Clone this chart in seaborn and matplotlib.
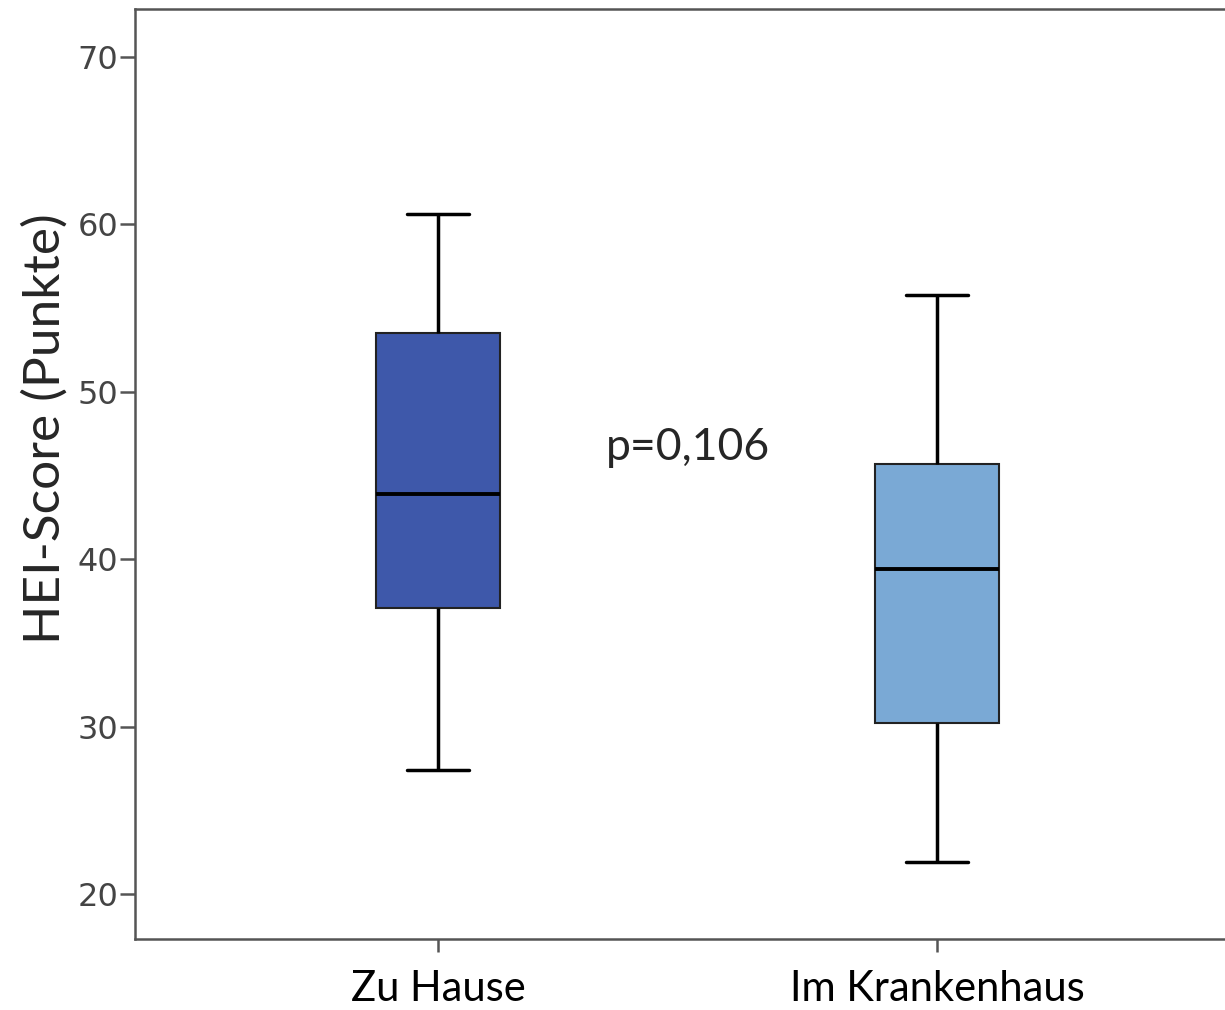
import matplotlib
matplotlib.use("Agg")
import matplotlib.pyplot as plt
import seaborn as sns
import pandas as pd

# Data (five-number summaries)
categories = ["Zu Hause", "Im Krankenhaus"]
zu_hause = [27.4, 37.1, 43.9, 53.5, 60.6]
krankenhaus = [21.9, 30.2, 39.4, 45.7, 55.8]
colors = ["#3E58AA", "#7AA9D5"]
yticks = [20, 30, 40, 50, 60, 70]
p_text = "p=0,106"

df = pd.DataFrame({
    "Gruppe": [categories[0]] * len(zu_hause) + [categories[1]] * len(krankenhaus),
    "HEI": zu_hause + krankenhaus,
})

sns.set_style("white")
plt.rcParams["font.family"] = ["Liberation Sans Narrow", "DejaVu Sans"]

fig = plt.figure(figsize=(12.25, 10.10), dpi=100)
ax = fig.add_axes([135 / 1225, 1 - 939 / 1010, (1240 - 135) / 1225, (939 - 9) / 1010])

sns.boxplot(
    data=df, x="Gruppe", y="HEI", hue="Gruppe", order=categories, hue_order=categories,
    palette=colors, saturation=1, width=0.25, linecolor="black", linewidth=1.5, whis=1.5,
    legend=False, ax=ax,
    whiskerprops=dict(linewidth=2.5, color="black"),
    capprops=dict(linewidth=2.5, color="black"),
    medianprops=dict(linewidth=2.8, color="black"),
    boxprops=dict(linewidth=1.5, edgecolor="#222222"),
)

ax.set_xlim(-0.607, 1.607)
ax.set_ylim(17.31, 72.87)
ax.set_yticks(yticks)
ax.set_yticklabels([str(t) for t in yticks])

for s in ax.spines.values():
    s.set_visible(True)
    s.set_color("#555555")
    s.set_linewidth(1.8)

ax.tick_params(axis="y", which="both", left=True, length=11, width=1.8, color="#555555",
               labelsize=23, labelcolor="#444444", pad=1)
ax.tick_params(axis="x", which="both", bottom=True, length=9, width=1.8, color="#555555",
               labelsize=30, labelcolor="black", pad=13)
for lab in ax.get_xticklabels():
    lab.set_fontfamily(["Lato", "DejaVu Sans"])

ax.set_xlabel("")
ax.set_ylabel("HEI-Score (Punkte)", fontsize=37, family=["Lato", "DejaVu Sans"])
ax.yaxis.set_label_coords(-0.06, 0.549)

ax.text(0.5, 46.7, p_text, fontsize=32, family=["Lato", "DejaVu Sans"], ha="center", va="center")

fig.savefig("out.png", dpi=100)
